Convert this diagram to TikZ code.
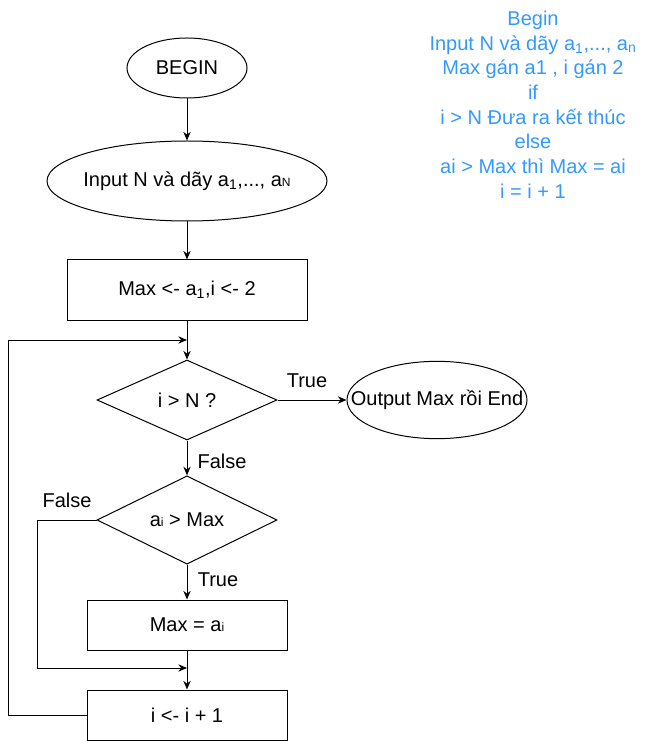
\documentclass[tikz,border=0pt]{standalone}
\usepackage{fontspec}
\setmainfont{Liberation Sans}
\usetikzlibrary{arrows.meta, shapes.geometric}
\definecolor{NoteBlue}{HTML}{3399FF}

\begin{document}
\begin{tikzpicture}[x=0.75pt, y=-0.75pt,
    every node/.style={font=\fontsize{15}{18}\selectfont},
    line/.style={draw, line width=0.75pt},
    arr/.style={line, -{Stealth[length=6.5pt, width=5.5pt]}},
    term/.style={ellipse, draw, line width=0.75pt, inner ysep=0pt},
    procbox/.style={rectangle, draw, line width=0.75pt, inner sep=0pt},
    decide/.style={diamond, draw, line width=0.75pt, inner sep=0pt,
        minimum width=135pt, minimum height=60pt}]
\useasboundingbox (0,0) rectangle (649,741);

% flow nodes
\node[term, minimum width=90pt, minimum height=45pt] (begin) at (187,68) {BEGIN};
\node[term, inner xsep=-4pt, minimum width=210pt, minimum height=60pt] (input) at (187,181)
    {Input N và dãy a\textsubscript{1},..., a{\small N}};
\node[procbox, minimum width=180pt, minimum height=45pt] (init) at (187,290)
    {Max <- a\textsubscript{1},i <- 2};
\node[decide] (test) at (187,400) {i > N ?};
\node[term, inner xsep=-19pt, minimum width=135pt, minimum height=58pt] (out) at (437,400)
    {Output Max rồi End};
\node[decide] (cmp) at (187,520) {a{\small i} > Max};
\node[procbox, minimum width=150pt, minimum height=37.5pt] (upd) at (187,625)
    {Max = a{\small i}};
\node[procbox, minimum width=150pt, minimum height=37.5pt] (inc) at (187,715)
    {i <- i + 1};

% helper points
\coordinate (join1) at (187,340);
\coordinate (join2) at (187,668);
\coordinate (loopx) at (8,715);
\coordinate (falsex) at (37,520);

% connectors
\draw[arr] (begin) -- (input);
\draw[arr] (input) -- (init);
\draw[arr] (init) -- (test);
\draw[arr] (test) -- (out);
\draw[arr] (test) -- (cmp);
\draw[arr] (cmp) -- (upd);
\draw[arr] (upd) -- (inc);
\draw[arr] (cmp.west) -- (falsex) |- (join2);
\draw[arr] (inc.west) -- (loopx) |- (join1);

% labels
\node (ltrue1) at (307,381) {True};
\node (lfalse1) at (222,461) {False};
\node (lfalse2) at (67,500) {False};
\node (ltrue2) at (218,580) {True};

% note
\node[text=NoteBlue, align=center, font=\fontsize{15}{18.5}\selectfont] (note) at (533,104.5)
    {Begin\\
     Input N và dãy a\textsubscript{1},..., a\textsubscript{n}\\
     Max gán a1 , i gán 2\\
     if\\
     i > N Đưa ra kết thúc\\
     else\\
     ai > Max thì Max = ai\\
     i = i + 1};
\end{tikzpicture}
\end{document}
